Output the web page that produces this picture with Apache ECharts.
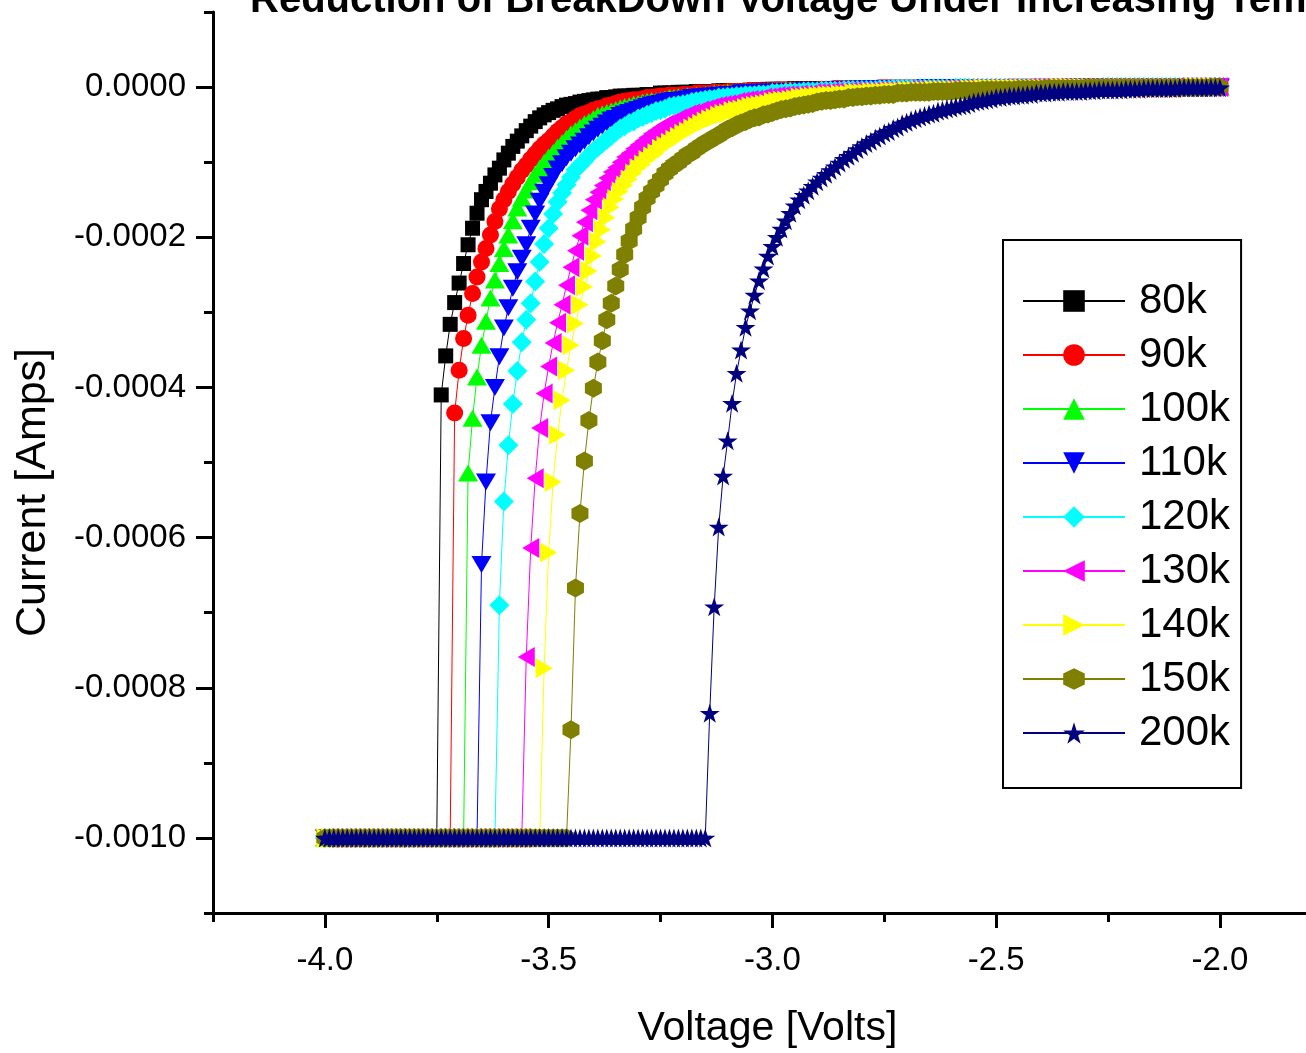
<!DOCTYPE html>
<html><head><meta charset="utf-8">
<script src="https://cdn.jsdelivr.net/npm/echarts/dist/echarts.min.js"></script>
<style>html,body{margin:0;padding:0;background:#fff;}#chart{width:1306px;height:1053px;}</style>
</head><body><div id="chart"></div>
<script>
// Sweep voltages (V)
const volts = [
-4.00,-3.99,-3.98,-3.97,-3.96,-3.95,-3.94,-3.93,-3.92,-3.91,
-3.90,-3.89,-3.88,-3.87,-3.86,-3.85,-3.84,-3.83,-3.82,-3.81,
-3.80,-3.79,-3.78,-3.77,-3.76,-3.75,-3.74,-3.73,-3.72,-3.71,
-3.70,-3.69,-3.68,-3.67,-3.66,-3.65,-3.64,-3.63,-3.62,-3.61,
-3.60,-3.59,-3.58,-3.57,-3.56,-3.55,-3.54,-3.53,-3.52,-3.51,
-3.50,-3.49,-3.48,-3.47,-3.46,-3.45,-3.44,-3.43,-3.42,-3.41,
-3.40,-3.39,-3.38,-3.37,-3.36,-3.35,-3.34,-3.33,-3.32,-3.31,
-3.30,-3.29,-3.28,-3.27,-3.26,-3.25,-3.24,-3.23,-3.22,-3.21,
-3.20,-3.19,-3.18,-3.17,-3.16,-3.15,-3.14,-3.13,-3.12,-3.11,
-3.10,-3.09,-3.08,-3.07,-3.06,-3.05,-3.04,-3.03,-3.02,-3.01,
-3.00,-2.99,-2.98,-2.97,-2.96,-2.95,-2.94,-2.93,-2.92,-2.91,
-2.90,-2.89,-2.88,-2.87,-2.86,-2.85,-2.84,-2.83,-2.82,-2.81,
-2.80,-2.79,-2.78,-2.77,-2.76,-2.75,-2.74,-2.73,-2.72,-2.71,
-2.70,-2.69,-2.68,-2.67,-2.66,-2.65,-2.64,-2.63,-2.62,-2.61,
-2.60,-2.59,-2.58,-2.57,-2.56,-2.55,-2.54,-2.53,-2.52,-2.51,
-2.50,-2.49,-2.48,-2.47,-2.46,-2.45,-2.44,-2.43,-2.42,-2.41,
-2.40,-2.39,-2.38,-2.37,-2.36,-2.35,-2.34,-2.33,-2.32,-2.31,
-2.30,-2.29,-2.28,-2.27,-2.26,-2.25,-2.24,-2.23,-2.22,-2.21,
-2.20,-2.19,-2.18,-2.17,-2.16,-2.15,-2.14,-2.13,-2.12,-2.11,
-2.10,-2.09,-2.08,-2.07,-2.06,-2.05,-2.04,-2.03,-2.02,-2.01,
-2.00
];

// Currents in microamps, one value per sweep voltage
const cur80k = [
-1000,-1000,-1000,-1000,-1000,-1000,-1000,-1000,-1000,-1000,
-1000,-1000,-1000,-1000,-1000,-1000,-1000,-1000,-1000,-1000,
-1000,-1000,-1000,-1000,-1000,-1000,
-410,-358,-316,-287,-261,-235,-210,-188,-168,-150,
-139,-128,-117,-108,-97,-88,-79,-72,-65,-58,
-52,-46,-41,-37,-34,-31,-29,-26,-24,-23,
-22,-20,-19,-18,-17,-16,-16,-14,-14,-13,
-12,-12,-12,-11,-11,-11,-10,-10,-10,-8,
-8,-8,-8,-7,-7,-7,-7,-6,-6,-6,
-6,-6,-5,-5,-5,-5,-5,-5,-5,-4,
-4,-4,-4,-3,-3,-3,-3,-3,-3,-2,
-2,-2,-2,-2,-2,-2,-2,-2,-2,-2,
-2,-2,-2,-2,-1,-1,-1,-1,-1,-1,
-1,-1,-1,-1,-1,-1,-1,-1,-1,-1,
-1,-1,-1,-1,-1,0,0,0,0,0,
0,0,0,0,0,0,0,0,0,0,
0,0,0,0,0,0,0,0,0,0,
0,0,0,0,0,0,0,0,0,0,
0,0,0,0,0,0,0,0,0,0,
0,0,0,0,0,0,0,0,0,0,
0,0,0,0,0
];
const cur90k = [
-1000,-1000,-1000,-1000,-1000,-1000,-1000,-1000,-1000,-1000,
-1000,-1000,-1000,-1000,-1000,-1000,-1000,-1000,-1000,-1000,
-1000,-1000,-1000,-1000,-1000,-1000,-1000,-1000,-1000,
-434,-377,-335,-304,-275,-253,-233,-215,-197,-179,
-162,-150,-139,-129,-120,-111,-104,-96,-89,-82,
-76,-71,-65,-59,-54,-49,-46,-42,-38,-36,
-34,-31,-29,-28,-25,-24,-22,-20,-19,-18,
-17,-17,-16,-14,-14,-13,-12,-12,-11,-11,
-11,-10,-10,-10,-8,-8,-8,-8,-7,-7,
-7,-6,-6,-6,-6,-6,-5,-5,-5,-5,
-5,-5,-4,-4,-4,-4,-4,-4,-4,-4,
-4,-4,-3,-3,-3,-2,-2,-2,-2,-2,
-2,-2,-2,-2,-2,-1,-1,-1,-1,-1,
-1,-1,-1,-1,-1,-1,-1,-1,-1,-1,
-1,-1,-1,-1,-1,-1,-1,-1,-1,-1,
-1,-1,-1,-1,0,0,0,0,0,0,
0,0,0,0,0,0,0,0,0,0,
0,0,0,0,0,0,0,0,0,0,
0,0,0,0,0,0,0,0,0,0,
0,0,0,0,0,0,0,0,0,0,
0,0
];
const cur100k = [
-1000,-1000,-1000,-1000,-1000,-1000,-1000,-1000,-1000,-1000,
-1000,-1000,-1000,-1000,-1000,-1000,-1000,-1000,-1000,-1000,
-1000,-1000,-1000,-1000,-1000,-1000,-1000,-1000,-1000,-1000,
-1000,-1000,
-514,-441,-386,-344,-312,-281,-257,-235,-215,-197,
-178,-161,-148,-137,-126,-116,-108,-100,-93,-87,
-80,-74,-68,-62,-58,-53,-49,-46,-42,-38,
-36,-34,-32,-30,-28,-26,-25,-23,-22,-20,
-19,-18,-18,-17,-16,-14,-14,-13,-13,-12,
-12,-11,-11,-10,-10,-8,-8,-8,-7,-7,
-7,-7,-6,-6,-6,-6,-6,-5,-5,-5,
-5,-5,-4,-4,-4,-4,-4,-4,-4,-4,
-4,-4,-3,-3,-3,-2,-2,-2,-2,-2,
-2,-2,-2,-2,-2,-2,-2,-2,-1,-1,
-1,-1,-1,-1,-1,-1,-1,-1,-1,-1,
-1,-1,-1,-1,-1,-1,-1,-1,-1,-1,
-1,-1,-1,-1,-1,-1,-1,0,0,0,
0,0,0,0,0,0,0,0,0,0,
0,0,0,0,0,0,0,0,0,0,
0,0,0,0,0,0,0,0,0,0,
0,0,0,0,0,0,0,0,0
];
const cur110k = [
-1000,-1000,-1000,-1000,-1000,-1000,-1000,-1000,-1000,-1000,
-1000,-1000,-1000,-1000,-1000,-1000,-1000,-1000,-1000,-1000,
-1000,-1000,-1000,-1000,-1000,-1000,-1000,-1000,-1000,-1000,
-1000,-1000,-1000,-1000,-1000,
-636,-526,-447,-400,-359,-321,-294,-268,-246,-228,
-210,-188,-169,-152,-140,-130,-119,-109,-102,-94,
-88,-82,-77,-72,-66,-61,-56,-52,-48,-44,
-42,-38,-36,-34,-32,-30,-28,-26,-24,-23,
-22,-20,-19,-18,-18,-17,-16,-14,-14,-13,
-13,-12,-12,-11,-11,-10,-10,-10,-8,-8,
-8,-8,-7,-7,-7,-7,-7,-6,-6,-6,
-6,-6,-5,-5,-5,-5,-5,-5,-4,-4,
-4,-4,-4,-3,-3,-3,-3,-2,-2,-2,
-2,-2,-2,-2,-2,-2,-2,-2,-2,-1,
-1,-1,-1,-1,-1,-1,-1,-1,-1,-1,
-1,-1,-1,-1,-1,-1,-1,-1,-1,-1,
-1,-1,-1,-1,-1,-1,-1,-1,-1,-1,
-1,-1,0,0,0,0,0,0,0,0,
0,0,0,0,0,0,0,0,0,0,
0,0,0,0,0,0,0,0,0,0,
0,0,0,0,0,0
];
const cur120k = [
-1000,-1000,-1000,-1000,-1000,-1000,-1000,-1000,-1000,-1000,
-1000,-1000,-1000,-1000,-1000,-1000,-1000,-1000,-1000,-1000,
-1000,-1000,-1000,-1000,-1000,-1000,-1000,-1000,-1000,-1000,
-1000,-1000,-1000,-1000,-1000,-1000,-1000,-1000,-1000,
-690,-552,-477,-422,-378,-340,-310,-288,-259,-233,
-209,-188,-169,-153,-141,-130,-120,-110,-104,-98,
-91,-85,-80,-75,-70,-65,-60,-55,-52,-48,
-46,-42,-40,-37,-35,-32,-31,-29,-26,-25,
-24,-23,-22,-20,-19,-18,-17,-16,-16,-14,
-14,-13,-13,-12,-12,-11,-11,-11,-10,-10,
-10,-8,-8,-8,-7,-7,-7,-7,-6,-6,
-6,-6,-5,-5,-5,-5,-5,-4,-4,-4,
-4,-4,-4,-4,-4,-3,-3,-3,-2,-2,
-2,-2,-2,-2,-2,-2,-2,-2,-2,-2,
-2,-2,-1,-1,-1,-1,-1,-1,-1,-1,
-1,-1,-1,-1,-1,-1,-1,-1,-1,-1,
-1,-1,-1,-1,-1,-1,-1,-1,-1,-1,
-1,-1,-1,-1,-1,0,0,0,0,0,
0,0,0,0,0,0,0,0,0,0,
0,0,0,0,0,0,0,0,0,0,
0,0
];
const cur130k = [
-1000,-1000,-1000,-1000,-1000,-1000,-1000,-1000,-1000,-1000,
-1000,-1000,-1000,-1000,-1000,-1000,-1000,-1000,-1000,-1000,
-1000,-1000,-1000,-1000,-1000,-1000,-1000,-1000,-1000,-1000,
-1000,-1000,-1000,-1000,-1000,-1000,-1000,-1000,-1000,-1000,
-1000,-1000,-1000,-1000,-1000,
-759,-614,-521,-454,-408,-372,-341,-314,-290,-264,
-240,-218,-198,-180,-164,-150,-140,-131,-121,-113,
-107,-100,-93,-88,-82,-77,-72,-67,-62,-58,
-54,-50,-48,-46,-42,-40,-37,-35,-34,-31,
-30,-28,-26,-25,-24,-23,-22,-20,-19,-18,
-17,-17,-16,-14,-14,-13,-12,-12,-11,-11,
-11,-10,-10,-10,-8,-8,-8,-8,-7,-7,
-7,-7,-6,-6,-6,-6,-6,-6,-5,-5,
-5,-5,-5,-5,-5,-4,-4,-4,-4,-4,
-4,-4,-4,-3,-3,-3,-3,-3,-2,-2,
-2,-2,-2,-2,-2,-2,-2,-2,-2,-2,
-2,-2,-1,-1,-1,-1,-1,-1,-1,-1,
-1,-1,-1,-1,-1,-1,-1,-1,-1,-1,
-1,-1,-1,-1,-1,-1,-1,-1,-1,-1,
-1,-1,-1,-1,-1,0,0,0,0,0,
0,0,0,0,0,0
];
const cur140k = [
-1000,-1000,-1000,-1000,-1000,-1000,-1000,-1000,-1000,-1000,
-1000,-1000,-1000,-1000,-1000,-1000,-1000,-1000,-1000,-1000,
-1000,-1000,-1000,-1000,-1000,-1000,-1000,-1000,-1000,-1000,
-1000,-1000,-1000,-1000,-1000,-1000,-1000,-1000,-1000,-1000,
-1000,-1000,-1000,-1000,-1000,-1000,-1000,-1000,-1000,
-774,-620,-526,-463,-417,-377,-344,-315,-290,-266,
-245,-225,-206,-190,-174,-160,-149,-139,-131,-123,
-115,-108,-103,-97,-92,-88,-82,-78,-74,-70,
-66,-62,-59,-55,-52,-49,-46,-43,-41,-38,
-36,-35,-32,-31,-30,-28,-26,-25,-24,-23,
-22,-20,-19,-18,-18,-17,-16,-14,-14,-13,
-13,-12,-12,-11,-11,-11,-10,-10,-10,-8,
-8,-8,-8,-7,-7,-7,-7,-6,-6,-6,
-6,-5,-5,-5,-5,-5,-5,-4,-4,-4,
-4,-4,-4,-4,-4,-3,-3,-3,-2,-2,
-2,-2,-2,-2,-2,-2,-2,-2,-2,-2,
-2,-2,-2,-2,-2,-1,-1,-1,-1,-1,
-1,-1,-1,-1,-1,-1,-1,-1,-1,-1,
-1,-1,-1,-1,-1,-1,-1,-1,-1,-1,
-1,-1,-1,-1,-1,0,0,0,0,0,
0,0
];
const cur150k = [
-1000,-1000,-1000,-1000,-1000,-1000,-1000,-1000,-1000,-1000,
-1000,-1000,-1000,-1000,-1000,-1000,-1000,-1000,-1000,-1000,
-1000,-1000,-1000,-1000,-1000,-1000,-1000,-1000,-1000,-1000,
-1000,-1000,-1000,-1000,-1000,-1000,-1000,-1000,-1000,-1000,
-1000,-1000,-1000,-1000,-1000,-1000,-1000,-1000,-1000,-1000,
-1000,-1000,-1000,-1000,-1000,
-856,-667,-568,-498,-444,-401,-366,-338,-310,-288,
-265,-243,-223,-205,-189,-174,-160,-148,-139,-131,
-123,-115,-109,-104,-100,-95,-90,-87,-82,-78,
-74,-71,-67,-64,-60,-56,-54,-50,-48,-46,
-43,-41,-40,-37,-36,-34,-32,-30,-29,-28,
-26,-25,-24,-23,-22,-20,-19,-18,-18,-17,
-16,-16,-14,-14,-13,-13,-12,-12,-11,-11,
-10,-10,-10,-8,-8,-8,-7,-7,-7,-7,
-7,-6,-6,-6,-6,-6,-5,-5,-5,-5,
-5,-5,-4,-4,-4,-4,-4,-4,-4,-4,
-3,-3,-3,-3,-3,-3,-2,-2,-2,-2,
-2,-2,-2,-2,-2,-1,-1,-1,-1,-1,
-1,-1,-1,-1,-1,-1,-1,-1,-1,-1,
-1,-1,-1,-1,-1,-1,-1,-1,-1,-1,
-1,-1,-1,0,0,0
];
const cur200k = [
-1000,-1000,-1000,-1000,-1000,-1000,-1000,-1000,-1000,-1000,
-1000,-1000,-1000,-1000,-1000,-1000,-1000,-1000,-1000,-1000,
-1000,-1000,-1000,-1000,-1000,-1000,-1000,-1000,-1000,-1000,
-1000,-1000,-1000,-1000,-1000,-1000,-1000,-1000,-1000,-1000,
-1000,-1000,-1000,-1000,-1000,-1000,-1000,-1000,-1000,-1000,
-1000,-1000,-1000,-1000,-1000,-1000,-1000,-1000,-1000,-1000,
-1000,-1000,-1000,-1000,-1000,-1000,-1000,-1000,-1000,-1000,
-1000,-1000,-1000,-1000,-1000,-1000,-1000,-1000,-1000,-1000,
-1000,-1000,-1000,-1000,-1000,-1000,
-834,-692,-586,-518,-471,-421,-381,-350,-320,-298,
-277,-258,-242,-225,-212,-200,-189,-178,-168,-158,
-150,-144,-138,-132,-126,-121,-116,-111,-106,-101,
-96,-92,-88,-83,-79,-75,-72,-68,-65,-61,
-59,-55,-53,-49,-47,-44,-42,-40,-38,-36,
-35,-32,-31,-29,-28,-26,-25,-24,-22,-20,
-19,-18,-17,-16,-14,-14,-13,-12,-12,-11,
-11,-10,-10,-8,-8,-8,-7,-7,-7,-6,
-6,-6,-6,-6,-5,-5,-5,-4,-4,-4,
-4,-4,-4,-3,-3,-3,-3,-2,-2,-2,
-2,-2,-2,-2,-2,-1,-1,-1,-1,-1,
-1,-1,-1,-1,-1
];

const seriesNames = ['80k','90k','100k','110k','120k','130k','140k','150k','200k'];
const xTicks = [-4.0,-3.5,-3.0,-2.5,-2.0];
const xMinorTicks = [-4.25,-3.75,-3.25,-2.75,-2.25,-1.75];
const yTicks = [0,-0.0002,-0.0004,-0.0006,-0.0008,-0.0010];
const yMinorTicks = [0.0001,-0.0001,-0.0003,-0.0005,-0.0007,-0.0009,-0.0011];

const currents = [cur80k,cur90k,cur100k,cur110k,cur120k,cur130k,cur140k,cur150k,cur200k];

// Styles
const colors = ['#000000','#ff0000','#00ff00','#0000ff','#00ffff','#ff00ff','#ffff00','#808000','#000080'];
const HEX = 'path://M5,0L9.33,2.5L9.33,7.5L5,10L0.67,7.5L0.67,2.5Z';
const STAR = 'path://M50,0L61.8,36.2L100,36.2L69.1,58.8L80.9,95.1L50,72.7L19.1,95.1L30.9,58.8L0,36.2L38.2,36.2Z';
const symbols = ['rect','circle','triangle','path://M0,0L10,0L5,10Z','diamond',
  'path://M0,5L10,0L10,10Z','path://M0,0L10,5L0,10Z',HEX,STAR];
const symbolSizes = [15,17,[20,17],[20,17],[20,20],[17,20],[17,20],[17,19],[20,19]];
const FONT = "'Liberation Sans', Arial, sans-serif";

const chart = echarts.init(document.getElementById('chart'), null, {renderer:'canvas'});

const series = seriesNames.map((name, k) => ({
  type: 'line',
  name: name,
  data: volts.map((v, i) => [v, currents[k][i] * 1e-6]),
  symbol: symbols[k],
  symbolSize: symbolSizes[k],
  showAllSymbol: true,
  itemStyle: {color: colors[k], borderWidth: 0},
  lineStyle: {color: colors[k], width: 1},
  emphasis: {disabled: true},
  animation: false
}));

const axisLineStyle = {color: '#000', width: 3};

chart.setOption({
  animation: false,
  backgroundColor: '#ffffff',
  title: {
    text: 'Reduction of BreakDown Voltage Under Increasing Temperature',
    left: 245, top: -24,
    textStyle: {fontFamily: FONT, fontWeight: 'bold', fontSize: 40, color: '#000'}
  },
  grid: {left: 213, top: 12, width: 1118.75, height: 901, containLabel: false, outerBoundsMode: 'none'},
  legend: {
    orient: 'vertical',
    left: 1003, top: 240,
    padding: [40, 11, 34, 19],
    itemWidth: 102, itemHeight: 27, itemGap: 12,
    borderColor: '#000', borderWidth: 2,
    textStyle: {fontFamily: FONT, fontSize: 42, color: '#000', lineHeight: 42, padding: [0,0,0,9]},
    data: seriesNames
  },
  xAxis: [{
    type: 'value', min: -4.25, max: -1.75, position: 'bottom',
    axisLine: {onZero: false, lineStyle: axisLineStyle},
    axisTick: {customValues: xTicks, length: 15, lineStyle: axisLineStyle},
    axisLabel: {customValues: xTicks, formatter: v => v.toFixed(1), fontFamily: FONT, fontSize: 33, color: '#000', margin: 31},
    splitLine: {show: false},
    name: 'Voltage [Volts]', nameLocation: 'middle', nameGap: 95,
    nameTextStyle: {fontFamily: FONT, fontSize: 41, color: '#000', padding: [0, 10, 0, 0]}
  }, {
    type: 'value', min: -4.25, max: -1.75, position: 'bottom',
    axisLine: {show: false, onZero: false},
    axisTick: {customValues: xMinorTicks, length: 9, lineStyle: axisLineStyle},
    axisLabel: {show: false},
    splitLine: {show: false}
  }],
  yAxis: [{
    type: 'value', min: -0.0011, max: 0.0001, position: 'left',
    axisLine: {onZero: false, lineStyle: axisLineStyle},
    axisTick: {customValues: yTicks, length: 17, lineStyle: axisLineStyle},
    axisLabel: {customValues: yTicks, formatter: v => v.toFixed(4), fontFamily: FONT, fontSize: 33, color: '#000', margin: 27},
    splitLine: {show: false},
    name: 'Current [Amps]', nameLocation: 'middle', nameGap: 158,
    nameTextStyle: {fontFamily: FONT, fontSize: 43, color: '#000', padding: [0, 60, 0, 0]}
  }, {
    type: 'value', min: -0.0011, max: 0.0001, position: 'left',
    axisLine: {show: false, onZero: false},
    axisTick: {customValues: yMinorTicks, length: 9, lineStyle: axisLineStyle},
    axisLabel: {show: false},
    splitLine: {show: false}
  }],
  series: series
});

currents.forEach((c, k) => { if (c.length !== volts.length) throw new Error(seriesNames[k] + ' length ' + c.length); });
</script>
</body></html>
